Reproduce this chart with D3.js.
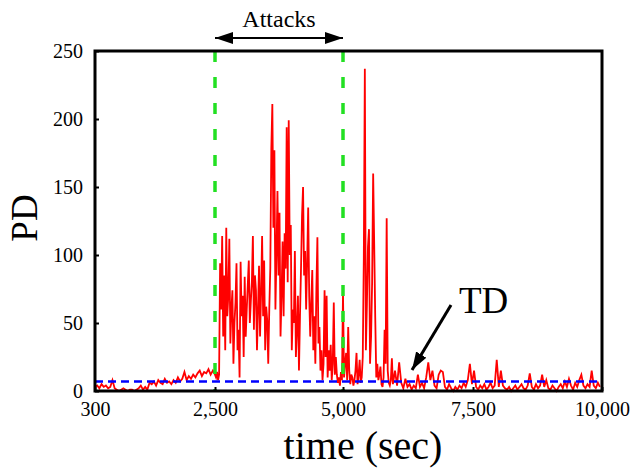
<!DOCTYPE html>
<html>
<head>
<meta charset="utf-8">
<script src="https://cdn.jsdelivr.net/npm/d3@7"></script>
<style>
  body { margin: 0; background: #fff; }
  text { font-family: "Liberation Serif", "DejaVu Serif", serif; fill: #000; }
</style>
</head>
<body>
<div id="vis"></div>
<script>
// axis ticks
const xTicks = [300, 2500, 5000, 7500, 10000];
const yTicks = [0, 50, 100, 150, 200, 250];

// attack window and detection threshold (TD)
const attackWindow = [2500, 5000];
const tdLevel = 7;

// PD samples, per phase (start sec, step sec, values)
const preStart = 300, preStep = 40;
const preAttackPD = [3, 4, 2, 5, 3, 4, 2, 3, 8, 2,
  1, 0, 1, 2, 1, 0, 1, 1, 0, 1, 2,
  4, 1, 3, 1,
  6, 5, 7, 4, 8, 6, 5, 9, 6, 7, 5,
  8, 6, 10, 7, 9,
  14, 8, 11, 9, 12, 10, 13, 15, 11, 14, 13, 16, 12, 15];

const attackStart = 2500, attackStep = 20;
const attackPD = [12, 10, 14, 8, 12,
  94, 60, 114, 40, 85, 30, 120, 55, 70, 112,
  35, 60, 74, 20, 50, 65, 94, 30, 45, 10,
  95, 55, 70, 25, 84, 40, 60, 78, 96, 50,
  66, 80, 114, 45, 85, 74, 30, 60, 92, 40,
  72, 114, 55, 96, 30, 62, 52, 20, 60, 90,
  178, 211, 120, 177, 60, 100, 147, 85, 131, 40,
  70, 110, 55, 116, 90, 194, 80, 199, 100, 122,
  30, 60, 50, 103, 25, 45, 70, 15, 55, 90,
  129, 150, 85, 103, 60, 95, 135, 70, 40, 65,
  89, 30, 55, 20, 75, 113, 35, 47, 15, 30,
  8, 20, 74, 25, 70, 10, 30, 15, 34, 8,
  20, 65, 12, 25, 12, 6, 10, 4, 14, 8];

const burstStart = 5000, burstStep = 20;
const burstPD = [72, 10, 20, 28, 8, 47, 15, 5, 12, 10,
  4, 8, 15, 28, 5, 12, 23, 6, 10, 25,
  97, 237, 30, 64, 106, 119, 20, 40, 80, 160,
  108, 54, 10, 20, 8, 12, 18, 5, 3, 10,
  45, 20, 127, 15, 6, 4, 8, 24, 5, 10];

const tailStart = 6000, tailStep = 40;
const tailPD = [15, 4, 21, 6, 2, 9, 3, 5, 1, 4,
  2, 12, 3, 6, 2, 10, 21, 8, 15, 4,
  2, 12, 15, 14, 3, 1, 5, 2, 0, 3,
  1, 4, 2, 6, 3, 8, 20, 5, 15, 3,
  1, 4, 2, 5, 1, 3, 6, 2, 4, 23,
  3, 15, 4, 2, 1, 3, 0, 2, 4, 1,
  3, 5, 2, 1, 4, 13, 3, 1, 5, 2,
  4, 12, 3, 8, 2, 1, 4, 2, 0, 3,
  5, 2, 7, 3, 9, 4, 1, 6, 3, 8,
  12, 4, 2, 5, 3, 15, 4, 2, 6, 3];

const segments = [
  [preStart, preStep, preAttackPD],
  [attackStart, attackStep, attackPD],
  [burstStart, burstStep, burstPD],
  [tailStart, tailStep, tailPD]
];
const series = segments.flatMap(([start, step, vals]) =>
  vals.map((v, i) => ({ t: start + i * step, pd: v })));

const width = 634, height = 469;
const plot = { left: 95, right: 602, top: 51, bottom: 391 };
const serif = '"Liberation Serif", "DejaVu Serif", serif';

const svg = d3.select("#vis").append("svg")
    .attr("width", width)
    .attr("height", height);

// axis is a bit stretched before 2,500 in the original
const x = d3.scaleLinear()
    .domain(xTicks)
    .range([plot.left, 215, 343, 473, plot.right]);

const y = d3.scaleLinear()
    .domain([0, 250])
    .range([plot.bottom, plot.top]);

// PD trace
svg.append("path")
    .datum(series)
    .attr("fill", "none")
    .attr("stroke", "#ff0000")
    .attr("stroke-width", 1.8)
    .attr("d", d3.line().x(d => x(d.t)).y(d => y(d.pd)));

// TD threshold
svg.append("line")
    .attr("x1", x(300)).attr("x2", x(10000))
    .attr("y1", y(tdLevel)).attr("y2", y(tdLevel))
    .attr("stroke", "#0000ff")
    .attr("stroke-width", 2.5)
    .attr("stroke-dasharray", "8,5");

// attack window borders
svg.selectAll(".attack-line")
    .data(attackWindow)
    .enter()
    .append("line")
    .attr("class", "attack-line")
    .attr("x1", d => x(d)).attr("x2", d => x(d))
    .attr("y1", y(250)).attr("y2", y(0))
    .attr("stroke", "#22e022")
    .attr("stroke-width", 3.5)
    .attr("stroke-dasharray", "11,15");

// axes
const yAxis = svg.append("g")
    .attr("transform", `translate(${plot.left},0)`)
    .call(d3.axisLeft(y).tickValues(yTicks).tickSizeInner(-4).tickSizeOuter(0).tickPadding(12));

const xAxis = svg.append("g")
    .attr("transform", `translate(0,${plot.bottom})`)
    .call(d3.axisBottom(x).tickValues(xTicks).tickFormat(d3.format(",")).tickSizeInner(-4).tickSizeOuter(0).tickPadding(11));

[yAxis, xAxis].forEach(a => {
  a.attr("font-family", serif).attr("font-size", 20);
  a.select(".domain").remove();
  a.selectAll(".tick line").attr("stroke", "#000").attr("stroke-width", 2);
  a.selectAll(".tick text").attr("fill", "#000");
});

// frame
svg.append("rect")
    .attr("x", plot.left).attr("y", plot.top)
    .attr("width", plot.right - plot.left).attr("height", plot.bottom - plot.top)
    .attr("fill", "none")
    .attr("stroke", "#000")
    .attr("stroke-width", 3);

// arrowheads
const defs = svg.append("defs");
defs.append("marker")
    .attr("id", "head")
    .attr("viewBox", "0 0 18 12")
    .attr("refX", 18).attr("refY", 6)
    .attr("markerWidth", 18).attr("markerHeight", 12)
    .attr("markerUnits", "userSpaceOnUse")
    .attr("orient", "auto-start-reverse")
    .append("path")
    .attr("d", "M0,0 L18,6 L0,12 Z")
    .attr("fill", "#000");

// "Attacks" double arrow
svg.append("line")
    .attr("x1", x(attackWindow[0])).attr("x2", x(attackWindow[1]))
    .attr("y1", 38).attr("y2", 38)
    .attr("stroke", "#000")
    .attr("stroke-width", 2)
    .attr("marker-start", "url(#head)")
    .attr("marker-end", "url(#head)");

svg.append("text")
    .attr("x", (x(attackWindow[0]) + x(attackWindow[1])) / 2)
    .attr("y", 27)
    .attr("text-anchor", "middle")
    .style("font-size", "24px")
    .text("Attacks");

// TD label with arrow
svg.append("line")
    .attr("x1", 451).attr("y1", 305)
    .attr("x2", 412).attr("y2", 370)
    .attr("stroke", "#000")
    .attr("stroke-width", 3)
    .attr("marker-end", "url(#head)");

svg.append("text")
    .attr("x", 459).attr("y", 313)
    .style("font-size", "37px")
    .text("TD");

// axis titles
svg.append("text")
    .attr("x", 363).attr("y", 459)
    .attr("text-anchor", "middle")
    .style("font-size", "40px")
    .text("time (sec)");

svg.append("text")
    .attr("transform", "translate(37,218) rotate(-90)")
    .attr("text-anchor", "middle")
    .style("font-size", "37px")
    .text("PD");
</script>
</body>
</html>
